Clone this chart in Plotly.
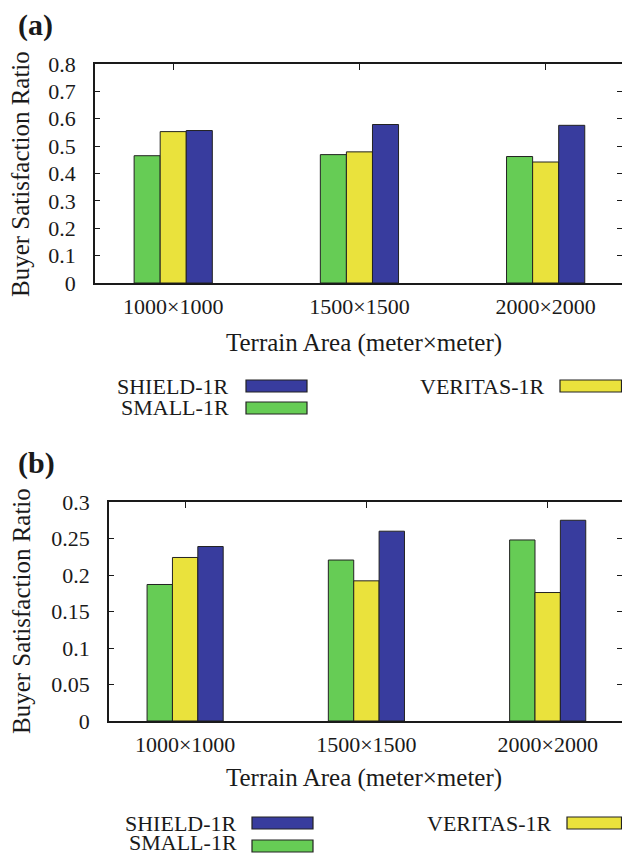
import plotly.graph_objects as go

W, H = 622, 855

categories = ["1000\u00d71000", "1500\u00d71500", "2000\u00d72000"]
cat_pos = [0, 1, 2]
series_names = ["SMALL-1R", "VERITAS-1R", "SHIELD-1R"]
series_colors = ["#66CC55", "#EAE23C", "#383C9E"]

# panel (a)
a_small = [0.465, 0.469, 0.462]
a_veritas = [0.553, 0.479, 0.442]
a_shield = [0.557, 0.579, 0.576]
a_ticks = [0, 0.1, 0.2, 0.3, 0.4, 0.5, 0.6, 0.7, 0.8]
a_ticktext = ["0", "0.1", "0.2", "0.3", "0.4", "0.5", "0.6", "0.7", "0.8"]

# panel (b)
b_small = [0.187, 0.2205, 0.248]
b_veritas = [0.224, 0.192, 0.176]
b_shield = [0.239, 0.260, 0.275]
b_ticks = [0, 0.05, 0.1, 0.15, 0.2, 0.25, 0.3]
b_ticktext = ["0", "0.05", "0.1", "0.15", "0.2", "0.25", "0.3"]

FONT = "Liberation Serif"
INK = "#1a1a1a"

def px(x):
    return x / W

def py(y):
    return 1 - y / H

fig = go.Figure()

for vals, name, col in zip([a_small, a_veritas, a_shield], series_names, series_colors):
    fig.add_trace(go.Bar(x=cat_pos, y=vals, name=name, marker=dict(color=col, line=dict(color="#222", width=1)),
                         xaxis="x", yaxis="y", showlegend=False))
for vals, name, col in zip([b_small, b_veritas, b_shield], series_names, series_colors):
    fig.add_trace(go.Bar(x=cat_pos, y=vals, name=name, marker=dict(color=col, line=dict(color="#222", width=1)),
                         xaxis="x2", yaxis="y2", showlegend=False))

# invisible companions so the mirrored right-hand tick axes are drawn
fig.add_trace(go.Scatter(x=cat_pos, y=a_shield, xaxis="x", yaxis="y3", mode="markers",
                         marker=dict(opacity=0), hoverinfo="skip", showlegend=False))
fig.add_trace(go.Scatter(x=cat_pos, y=b_shield, xaxis="x2", yaxis="y4", mode="markers",
                         marker=dict(opacity=0), hoverinfo="skip", showlegend=False))

xrange_ = [-0.42, 2.41]
common_x = dict(range=xrange_, tickvals=cat_pos, ticktext=categories, ticks="inside", ticklen=6,
                tickcolor=INK, showline=True, linecolor=INK, linewidth=1.5, mirror="ticks",
                showgrid=False, zeroline=False, automargin=False, layer="below traces",
                tickfont=dict(family=FONT, size=22, color=INK), ticklabelstandoff=3)
common_y = dict(ticks="inside", ticklen=5, tickcolor=INK, showline=True, linecolor=INK, linewidth=1.5,
                mirror=False, showgrid=False, zeroline=False, automargin=False,
                tickfont=dict(family=FONT, size=22, color=INK), ticklabelstandoff=13)
ghost_y = dict(ticks="inside", ticklen=5, tickcolor=INK, tickwidth=1.2, showline=False, showgrid=False,
               zeroline=False, showticklabels=False, side="right", automargin=False)

fig.update_layout(
    width=W, height=H,
    margin=dict(l=0, r=0, t=0, b=0),
    paper_bgcolor="white", plot_bgcolor="white",
    barmode="group", bargap=0.58, bargroupgap=0,
    xaxis=dict(domain=[px(95), 1], anchor="y", **common_x),
    yaxis=dict(domain=[py(283), py(64)], anchor="x", range=[0, 0.8], tickvals=a_ticks, ticktext=a_ticktext, **common_y),
    yaxis3=dict(overlaying="y", anchor="x", range=[0, 0.8], tickvals=a_ticks, **ghost_y),
    xaxis2=dict(domain=[px(109), 1], anchor="y2", **common_x),
    yaxis2=dict(domain=[py(721), py(502)], anchor="x2", range=[0, 0.3], tickvals=b_ticks, ticktext=b_ticktext, **common_y),
    yaxis4=dict(overlaying="y2", anchor="x2", range=[0, 0.3], tickvals=b_ticks, **ghost_y),
)

ann = []
shapes = []

def text(x, y, s, size=22, anchor="center", bold=False, angle=0):
    ann.append(dict(x=px(x), y=py(y), xref="paper", yref="paper", text=("<b>%s</b>" % s) if bold else s,
                    showarrow=False, xanchor=anchor, yanchor="middle", textangle=angle,
                    font=dict(family=FONT, size=size, color=INK)))

# panel labels
text(16, 25, "(a)", size=30, anchor="left", bold=True)
text(16, 463, "(b)", size=30, anchor="left", bold=True)

# axis titles
text(21, 174, "Buyer Satisfaction Ratio", size=25, angle=-90)
text(364, 343, "Terrain Area (meter\u00d7meter)", size=25)
text(21, 611, "Buyer Satisfaction Ratio", size=25, angle=-90)
text(364, 778, "Terrain Area (meter\u00d7meter)", size=25)

def legend_entry(tx, ty, name, col, bx0, bx1, ly=None):
    text(tx, ty if ly is None else ly, name, size=22, anchor="right")
    shapes.append(dict(type="rect", xref="paper", yref="paper", x0=px(bx0), x1=px(bx1),
                       y0=py(ty + 6), y1=py(ty - 6), fillcolor=col, line=dict(color="#222", width=1.2)))

# legend (a)
legend_entry(231, 386, series_names[2], series_colors[2], 246, 307)
legend_entry(231, 408, series_names[0], series_colors[0], 246, 307)
legend_entry(546, 386, series_names[1], series_colors[1], 560, 621.5)
# legend (b)
legend_entry(239, 823, series_names[2], series_colors[2], 252, 313)
legend_entry(239, 846, series_names[0], series_colors[0], 252, 313, ly=842)
legend_entry(553, 823, series_names[1], series_colors[1], 567, 621.5)

fig.update_layout(annotations=ann, shapes=shapes)

fig.write_html("out.html", config={"displayModeBar": False},
               post_script="document.body.style.margin='0';document.body.style.padding='0';document.body.style.overflow='hidden';")
